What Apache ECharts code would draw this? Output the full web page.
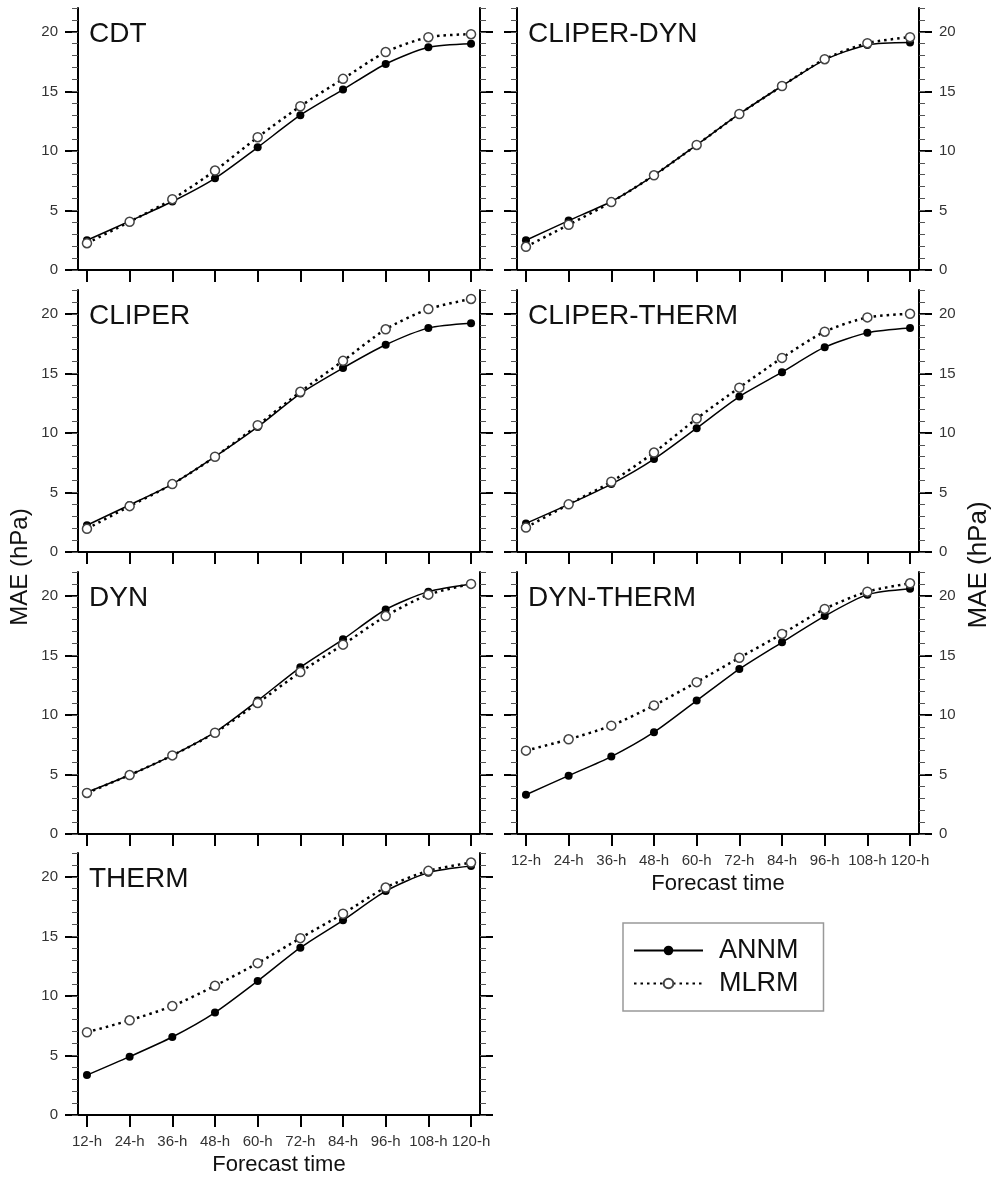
<!DOCTYPE html>
<html>
<head>
<meta charset="utf-8">
<script src="https://cdn.jsdelivr.net/npm/echarts@6/dist/echarts.min.js"></script>
<style>
  html, body { margin: 0; padding: 0; background: #fff; }
  #chart { width: 993px; height: 1178px; }
</style>
</head>
<body>
<div id="chart"></div>
<script>
// forecast lead times
var hours = ['12-h', '24-h', '36-h', '48-h', '60-h', '72-h', '84-h', '96-h', '108-h', '120-h'];
var majorTicks = [0, 5, 10, 15, 20];
var panelNames = ['CDT', 'CLIPER-DYN', 'CLIPER', 'CLIPER-THERM', 'DYN', 'DYN-THERM', 'THERM'];

// MAE (hPa), ANNM / MLRM per predictor set
var annmCDT = [2.5, 4.1, 5.75, 7.7, 10.3, 13.0, 15.15, 17.3, 18.7, 19.0];
var mlrmCDT = [2.25, 4.05, 5.95, 8.35, 11.15, 13.75, 16.05, 18.3, 19.55, 19.8];
var annmCliperDyn = [2.5, 4.15, 5.75, 7.95, 10.5, 13.1, 15.45, 17.65, 18.9, 19.1];
var mlrmCliperDyn = [1.95, 3.8, 5.7, 7.95, 10.5, 13.1, 15.45, 17.7, 19.05, 19.55];
var annmCliper = [2.25, 3.95, 5.7, 8.0, 10.5, 13.3, 15.45, 17.4, 18.8, 19.2];
var mlrmCliper = [1.95, 3.85, 5.7, 8.0, 10.65, 13.45, 16.05, 18.7, 20.4, 21.25];
var annmCliperTherm = [2.4, 4.0, 5.7, 7.8, 10.4, 13.05, 15.1, 17.2, 18.4, 18.8];
var mlrmCliperTherm = [2.05, 4.0, 5.9, 8.35, 11.2, 13.8, 16.3, 18.5, 19.7, 20.0];
var annmDyn = [3.5, 4.95, 6.6, 8.55, 11.2, 14.0, 16.35, 18.85, 20.35, 21.0];
var mlrmDyn = [3.45, 4.95, 6.6, 8.5, 11.0, 13.6, 15.9, 18.3, 20.1, 21.0];
var annmDynTherm = [3.3, 4.9, 6.5, 8.55, 11.2, 13.85, 16.1, 18.3, 20.1, 20.6];
var mlrmDynTherm = [7.0, 7.95, 9.1, 10.8, 12.75, 14.8, 16.8, 18.9, 20.35, 21.05];
var annmTherm = [3.35, 4.9, 6.55, 8.6, 11.25, 14.05, 16.35, 18.8, 20.35, 20.9];
var mlrmTherm = [6.95, 7.95, 9.15, 10.85, 12.75, 14.85, 16.9, 19.1, 20.5, 21.2];

var annmAll = [annmCDT, annmCliperDyn, annmCliper, annmCliperTherm, annmDyn, annmDynTherm, annmTherm];
var mlrmAll = [mlrmCDT, mlrmCliperDyn, mlrmCliper, mlrmCliperTherm, mlrmDyn, mlrmDynTherm, mlrmTherm];

var font = 'Liberation Sans, Arial, sans-serif';
var xPos = [];
for (var k = 1; k <= hours.length; k++) xPos.push(k);
var minorTicks = [];
for (var m = 0; m <= 22; m++) minorTicks.push(m);

var colLeft = [78, 517];
var rowTop = [8, 290, 572, 853];
var gw = 402, gh = 262;

var grids = [], xAxes = [], yAxes = [], series = [], titles = [];

function toPoints(arr) {
  return arr.map(function (v, i) { return [xPos[i], v]; });
}

function yAxisDef(i, side, major, showLabel) {
  return {
    type: 'value', gridIndex: i, position: side, min: 0, max: 22,
    axisLine: { show: major, lineStyle: { color: '#000', width: 2 } },
    axisTick: major
      ? { customValues: majorTicks, length: 13, lineStyle: { color: '#000', width: 2 } }
      : { customValues: minorTicks, length: 6, lineStyle: { color: '#555', width: 1 } },
    axisLabel: {
      show: major && showLabel, customValues: majorTicks, margin: 20,
      fontSize: 15, color: '#333', fontFamily: font
    },
    splitLine: { show: false }
  };
}

for (var i = 0; i < panelNames.length; i++) {
  var col = i % 2, row = Math.floor(i / 2);
  var bottomRow = (i === 5 || i === 6);
  grids.push({ left: colLeft[col], top: rowTop[row], width: gw, height: gh });

  xAxes.push({
    type: 'value', gridIndex: i, position: 'bottom', min: 0.79, max: 10.21,
    axisLine: { lineStyle: { color: '#000', width: 2 } },
    axisTick: { customValues: xPos, length: 12, lineStyle: { color: '#000', width: 2 } },
    axisLabel: {
      show: bottomRow, customValues: xPos, margin: 19, fontSize: 15, color: '#333', fontFamily: font,
      formatter: function (v) { return hours[Math.round(v) - 1]; }
    },
    splitLine: { show: false },
    name: bottomRow ? 'Forecast time' : '',
    nameLocation: 'middle', nameGap: 39,
    nameTextStyle: { fontSize: 22, color: '#111', fontFamily: font }
  });
  xAxes.push({
    type: 'value', gridIndex: i, position: 'top', min: 0.79, max: 10.21,
    axisLine: { lineStyle: { color: '#000', width: 2 } },
    axisTick: { show: false }, axisLabel: { show: false }, splitLine: { show: false }
  });

  yAxes.push(yAxisDef(i, 'left', true, col === 0));
  yAxes.push(yAxisDef(i, 'left', false, false));
  yAxes.push(yAxisDef(i, 'right', true, col === 1));
  yAxes.push(yAxisDef(i, 'right', false, false));

  titles.push({
    text: panelNames[i], left: colLeft[col] + 11, top: rowTop[row] + 12, padding: 0,
    textStyle: { fontSize: 28, fontWeight: 'normal', color: '#111', fontFamily: font }
  });

  series.push({
    name: 'ANNM', type: 'line', xAxisIndex: 2 * i, yAxisIndex: 4 * i,
    data: toPoints(annmAll[i]), smooth: 0.25,
    symbol: 'circle', symbolSize: 8,
    lineStyle: { color: '#000', width: 1.5 },
    itemStyle: { color: '#000' }
  });
  series.push({
    name: 'MLRM', type: 'line', xAxisIndex: 2 * i, yAxisIndex: 4 * i,
    data: toPoints(mlrmAll[i]), smooth: 0.25,
    symbol: 'circle', symbolSize: 9,
    lineStyle: { color: '#000', width: 2.5, type: [2.5, 4] },
    itemStyle: { color: '#fff', borderColor: '#444', borderWidth: 1.5 }
  });
}

var chart = echarts.init(document.getElementById('chart'));
chart.setOption({
  animation: false,
  backgroundColor: '#fff',
  title: titles,
  grid: grids,
  xAxis: xAxes,
  yAxis: yAxes,
  series: series,
  legend: {
    data: ['ANNM', 'MLRM'],
    orient: 'vertical', left: 623, top: 923,
    padding: [14, 25, 14, 10], itemGap: 6,
    itemWidth: 69, itemHeight: 12,
    borderColor: '#999', borderWidth: 1.5,
    textStyle: { fontSize: 27, color: '#111', fontFamily: font, padding: [0, 0, 0, 11] }
  },
  graphic: [
    {
      type: 'text', x: 20, y: 567, rotation: Math.PI / 2,
      style: { text: 'MAE (hPa)', fontSize: 24, fontFamily: font, fill: '#111', align: 'center', verticalAlign: 'middle' }
    },
    {
      type: 'text', x: 979, y: 565, rotation: Math.PI / 2,
      style: { text: 'MAE (hPa)', fontSize: 26, fontFamily: font, fill: '#111', align: 'center', verticalAlign: 'middle' }
    }
  ]
});
</script>
</body>
</html>
